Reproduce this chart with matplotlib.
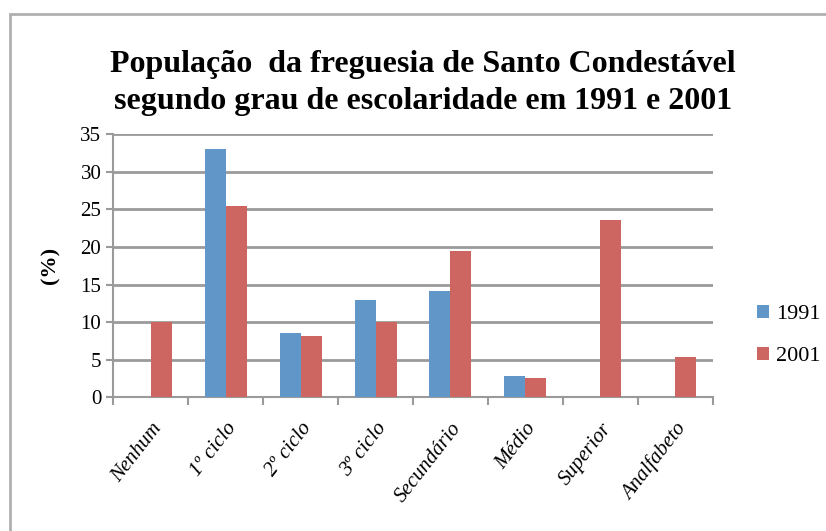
import matplotlib
matplotlib.use("Agg")
import matplotlib.pyplot as plt
import numpy as np
from matplotlib.patches import Rectangle

# Data
categories = ["Nenhum", "1º ciclo", "2º ciclo", "3º ciclo", "Secundário",
              "Médio", "Superior", "Analfabeto"]
v1991 = [0, 33.0, 8.5, 12.9, 14.2, 2.8, 0, 0]
v2001 = [10.0, 25.5, 8.1, 10.0, 19.5, 2.5, 23.6, 5.4]
series_names = ["1991", "2001"]

blue = "#6196C9"
red = "#CD6661"
grid = "#9A9A9A"

fig = plt.figure(figsize=(8.26, 5.31), dpi=100)
ax = fig.add_axes([0.137, 0.252, 0.726, 0.495])

x = np.arange(len(categories))
w = 0.28
ax.bar(x - w / 2, v1991, w, color=blue, label=series_names[0], zorder=3)
ax.bar(x + w / 2, v2001, w, color=red, label=series_names[1], zorder=3)

ax.set_xlim(-0.5, len(categories) - 0.5)
ax.set_ylim(0, 35)
ax.set_yticks(range(0, 36, 5))
ax.yaxis.grid(True, color=grid, linewidth=2, zorder=0)
ax.set_axisbelow(True)

for s in ["top", "right"]:
    ax.spines[s].set_visible(False)
for s in ["left", "bottom"]:
    ax.spines[s].set_color(grid)
    ax.spines[s].set_linewidth(1.5)

# category ticks sit between groups
ax.set_xticks(np.arange(-0.5, len(categories), 1))
ax.set_xticklabels([])
ax.set_xticks(x, minor=True)
ax.set_xticklabels(categories, minor=True, rotation=52, ha="right",
                   rotation_mode="anchor", family="Liberation Serif",
                   style="italic", fontsize=15)
ax.tick_params(axis="x", which="major", length=6, color=grid, width=1.5)
ax.tick_params(axis="x", which="minor", length=0, pad=16)
ax.tick_params(axis="y", length=5, color=grid, width=1.5, labelsize=15)
for t in ax.get_yticklabels():
    t.set_family("Liberation Serif")

ax.set_ylabel("(%)", family="Liberation Serif", fontweight="bold",
              fontsize=16, labelpad=14)

fig.text(0.512, 0.905, "População  da freguesia de Santo Condestável\n"
         "segundo grau de escolaridade em 1991 e 2001",
         ha="center", va="top", family="Liberation Serif", fontweight="bold",
         fontsize=23, linespacing=1.33)

leg = ax.legend(loc="center left", bbox_to_anchor=(1.04, 0.235), frameon=False,
                prop={"family": "Liberation Serif", "size": 16},
                handlelength=0.55, handleheight=0.55, handletextpad=0.3,
                labelspacing=1.0)

# outer chart border (only left and top visible in the crop)
fig.patches.append(Rectangle((0.012, -0.1), 1.1, 1.074, transform=fig.transFigure,
                             fill=False, edgecolor="#B0B0B0", linewidth=2))

fig.savefig("out.png", dpi=100)
